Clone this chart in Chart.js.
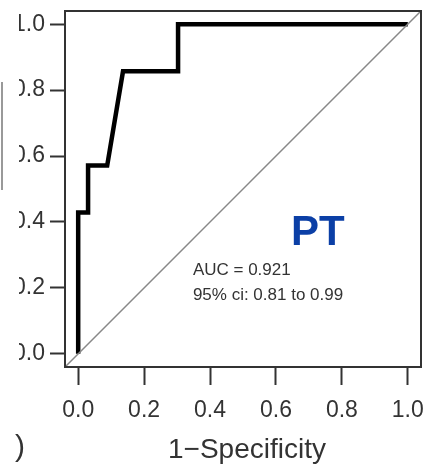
<!DOCTYPE html>
<html>
<head>
<meta charset="utf-8">
<script src="https://cdn.jsdelivr.net/npm/chart.js@4"></script>
<style>
    html, body { margin: 0; padding: 0; background: #fff; overflow: hidden; }
    #wrap { position: absolute; left: -16px; top: 0; width: 443px; height: 468px; }
</style>
</head>
<body>
<div id="wrap"><canvas id="rocChart" width="443" height="468"></canvas></div>
<script>
// ========================================
// DATA
// ========================================

const rocFpr = [0, 0, 0.03, 0.03, 0.088, 0.136, 0.303, 0.303, 1.0];
const rocTpr = [0, 0.429, 0.429, 0.571, 0.571, 0.857, 0.857, 1.0, 1.0];
const diagX = [-0.04, 1.04];
const diagY = [-0.04, 1.04];
const tickValues = [0, 0.2, 0.4, 0.6, 0.8, 1.0];
const aucLines = ['AUC = 0.921', '95% ci: 0.81 to 0.99'];
const panelLabel = 'PT';
const xTitle = '1\u2212Specificity';

const SHIFT = 16;
const FONT = '"Liberation Sans", Arial, Helvetica, sans-serif';

// ========================================
// PLUGIN: box, annotations
// ========================================

const boxPlugin = {
    id: 'boxPlugin',
    afterDraw: (chart) => {
        const { ctx, chartArea: a } = chart;
        ctx.save();

        // the source panel is cropped on the left
        ctx.fillStyle = '#fff';
        ctx.fillRect(0, 0, SHIFT + 19, 395);

        ctx.strokeStyle = '#333';
        ctx.lineWidth = 2;
        ctx.strokeRect(a.left, a.top, a.right - a.left, a.bottom - a.top);

        const xs = chart.scales.x;
        const ys = chart.scales.y;

        // PT label
        ctx.fillStyle = '#0b3fa6';
        ctx.font = `bold 42px ${FONT}`;
        ctx.textAlign = 'center';
        ctx.textBaseline = 'middle';
        ctx.fillText(panelLabel, xs.getPixelForValue(0.727), ys.getPixelForValue(0.365));

        // AUC text
        ctx.fillStyle = '#333';
        ctx.font = `17px ${FONT}`;
        ctx.textAlign = 'left';
        aucLines.forEach((t, i) => {
            ctx.fillText(t, xs.getPixelForValue(0.348), ys.getPixelForValue(0.252) + i * 25);
        });

        // x title
        ctx.fillStyle = '#333';
        ctx.font = `28px ${FONT}`;
        ctx.textAlign = 'center';
        ctx.fillText(xTitle, SHIFT + 247, 450);

        // cropped panel letter and frame edge
        ctx.font = `30px ${FONT}`;
        ctx.fillText(')', SHIFT + 20, 448);
        ctx.strokeStyle = '#777';
        ctx.lineWidth = 1.5;
        ctx.beginPath();
        ctx.moveTo(SHIFT + 2, 82);
        ctx.lineTo(SHIFT + 2, 190);
        ctx.stroke();
        ctx.restore();
    }
};

// ========================================
// CHART
// ========================================

const axisCommon = (id) => ({
    type: 'linear',
    min: -0.04,
    max: 1.04,
    border: { display: false },
    grid: {
        drawOnChartArea: false,
        drawTicks: true,
        tickLength: id === 'x' ? 18 : 15,
        tickWidth: 2,
        color: '#333'
    },
    ticks: {
        color: '#333',
        font: { family: FONT, size: 23 },
        padding: id === 'x' ? 12 : 5,
        callback: (v) => v.toFixed(1)
    },
    afterBuildTicks: (scale) => {
        scale.ticks = tickValues.map(v => ({ value: v }));
    }
});

const ctx = document.getElementById('rocChart').getContext('2d');

new Chart(ctx, {
    type: 'scatter',
    data: {
        datasets: [
            {
                data: diagX.map((x, i) => ({ x, y: diagY[i] })),
                showLine: true,
                borderColor: '#888',
                borderWidth: 1.5,
                pointRadius: 0
            },
            {
                data: rocFpr.map((x, i) => ({ x, y: rocTpr[i] })),
                showLine: true,
                borderColor: '#000',
                borderWidth: 4.5,
                pointRadius: 0,
                borderJoinStyle: 'miter'
            }
        ]
    },
    options: {
        responsive: false,
        animation: false,
        layout: { padding: { top: 11, right: 6, left: 0, bottom: 0 } },
        plugins: {
            legend: { display: false },
            tooltip: { enabled: false }
        },
        scales: {
            x: {
                ...axisCommon('x'),
                afterFit: (scale) => {
                    scale.height = 101;
                    scale.paddingLeft = 0;
                    scale.paddingRight = 0;
                }
            },
            y: {
                ...axisCommon('y'),
                afterFit: (scale) => {
                    scale.width = 65 + SHIFT;
                    scale.paddingTop = 0;
                    scale.paddingBottom = 0;
                }
            }
        }
    },
    plugins: [boxPlugin]
});
</script>
</body>
</html>
